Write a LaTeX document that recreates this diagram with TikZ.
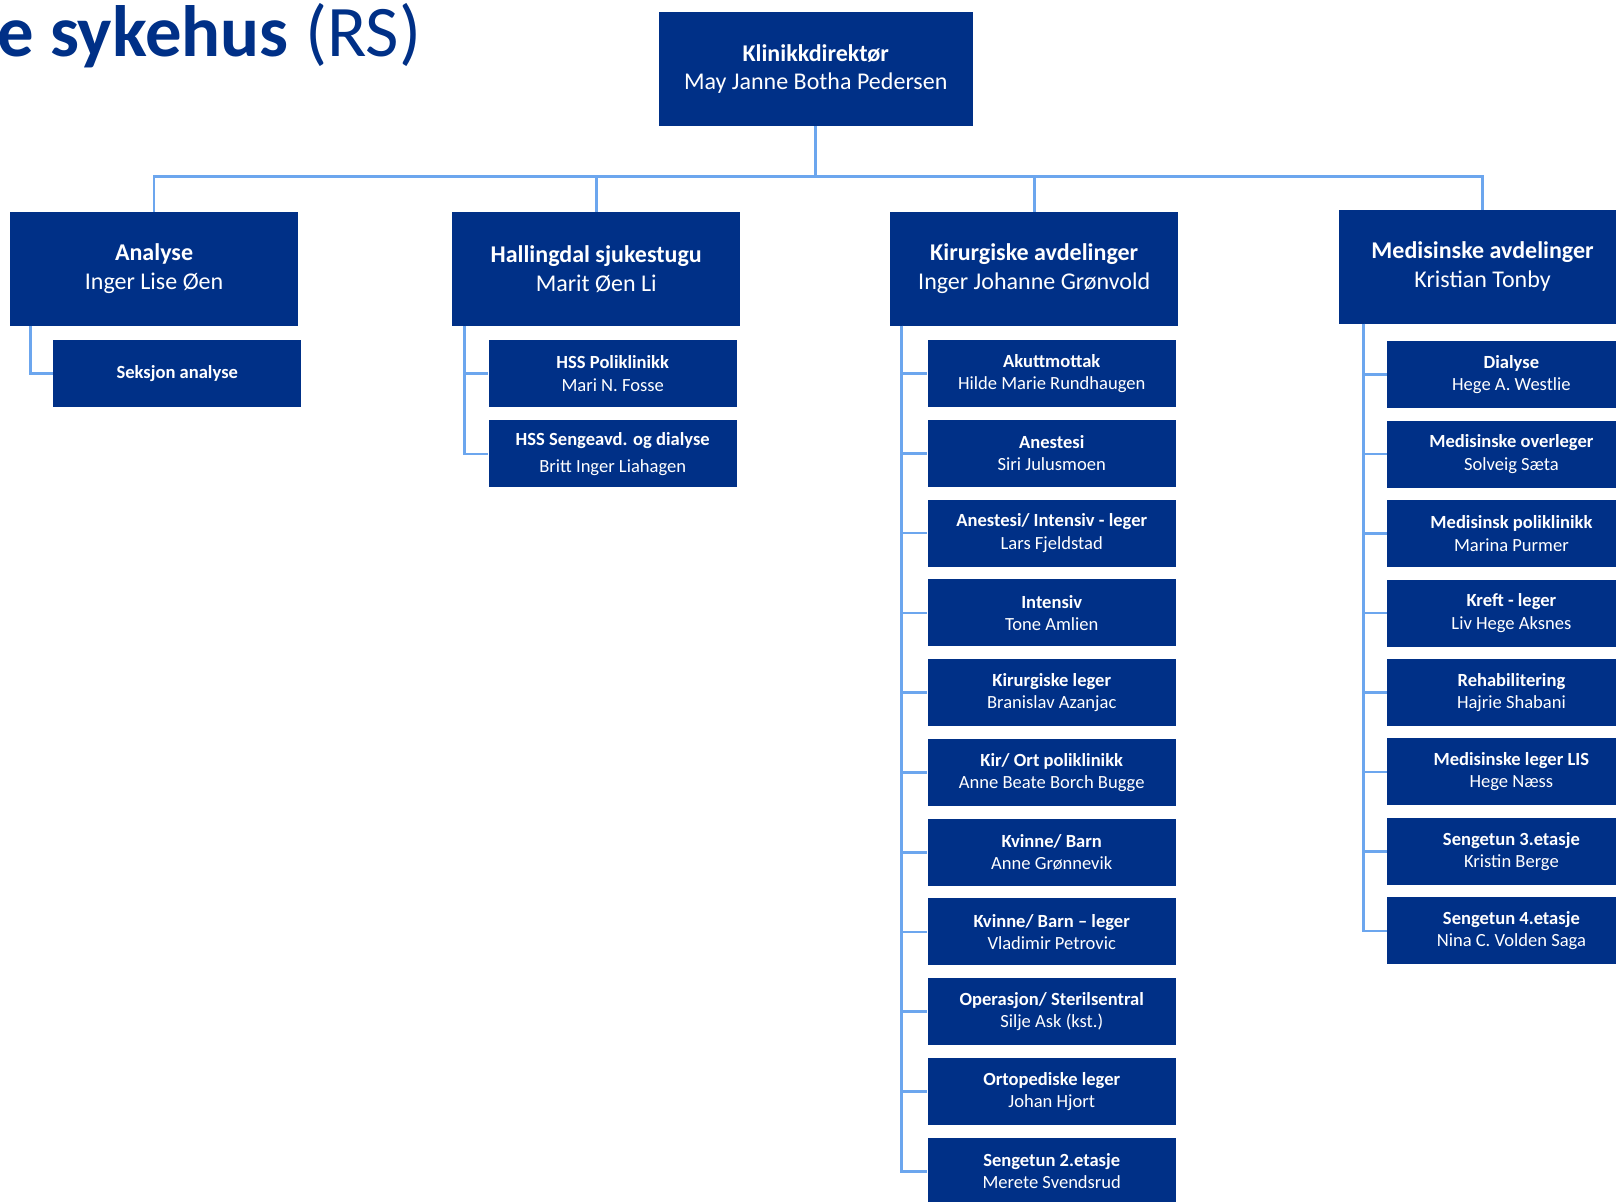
\documentclass[tikz,border=0pt]{standalone}
\usepackage{fontspec}
\setmainfont{Carlito}
\usetikzlibrary{positioning}
\definecolor{rsnavy}{HTML}{003087}
\definecolor{rsline}{HTML}{6CA6EE}

\begin{document}
\begin{tikzpicture}[x=1pt, y=-1pt,
    headbox/.style={fill=rsnavy, text=white, align=center, inner sep=0,
        minimum width=305, minimum height=110, font=\fontsize{23.3}{28}\selectfont},
    deptbox/.style={headbox, minimum width=279},
    unitbox/.style={fill=rsnavy, text=white, align=center, inner sep=0,
        minimum width=241, minimum height=65, font=\fontsize{18}{21.5}\selectfont},
    conn/.style={rsline, line width=2.6}]
                \useasboundingbox (0,0) rectangle (1568,1166);
                \clip (0,0) rectangle (1568,1166);

                % Title
                \node[anchor=base west, inner sep=0, text=rsnavy, font=\fontsize{70.5}{80}\selectfont]
                    (title) at (-3,55) {\textbf{e sykehus} (RS)};

                % Top level
                \node[headbox] (klinikk) at (791.5,67) {\textbf{Klinikkdirektør}\\May Janne Botha Pedersen};
                \coordinate (bus) at (791.5,171);

                \node[deptbox] (analyse) at (149.5,261) {\textbf{Analyse}\\Inger Lise Øen};
                \node[deptbox] (halling) at (578.5,261) {\textbf{Hallingdal sjukestugu}\\Marit Øen Li};
                \node[deptbox] (kir) at (1003.5,261) {\textbf{Kirurgiske avdelinger}\\Inger Johanne Grønvold};
                \node[deptbox] (med) at (1438.5,259) {\textbf{Medisinske avdelinger}\\Kristian Tonby};

                \draw[conn] (klinikk.south) -- (bus);
                \draw[conn] (bus) -| (analyse.north);
                \draw[conn] (bus) -| (halling.north);
                \draw[conn] (bus) -| (kir.north);
                \draw[conn] (bus) -| (med.north);

                % Analyse
                \node[unitbox] (seksjon) at (172,362.5) {\textbf{Seksjon analyse}};
                \draw[conn] ([xshift=20]analyse.south west) |- (seksjon.west);

                % Hallingdal sjukestugu
                \node[unitbox] (hsspol) at (594.5,362.5) {\textbf{HSS Poliklinikk}\\Mari N. Fosse};
                \node[unitbox] (hsssenge) at (594.5,440.5) {\textbf{HSS Sengeavd. og dialyse}\\[4pt]Britt Inger Liahagen};
                \draw[conn] ([xshift=12]halling.south west) |- (hsspol.west);
                \draw[conn] ([xshift=12]halling.south west) |- (hsssenge.west);

                % Kirurgiske avdelinger
                \node[unitbox] (akutt) at (1020.5,362.5) {\textbf{Akuttmottak}\\Hilde Marie Rundhaugen};
                \node[unitbox] (anestesi) at (1020.5,439.9) {\textbf{Anestesi}\\Siri Julusmoen};
                \node[unitbox] (anint) at (1020.5,517.3) {\textbf{Anestesi/ Intensiv - leger}\\Lars Fjeldstad};
                \node[unitbox] (intensiv) at (1020.5,594.7) {\textbf{Intensiv}\\Tone Amlien};
                \node[unitbox] (kirleger) at (1020.5,672.1) {\textbf{Kirurgiske leger}\\Branislav Azanjac};
                \node[unitbox] (kirort) at (1020.5,749.5) {\textbf{Kir/ Ort poliklinikk}\\Anne Beate Borch Bugge};
                \node[unitbox] (kvbarn) at (1020.5,826.9) {\textbf{Kvinne/ Barn}\\Anne Grønnevik};
                \node[unitbox] (kvleger) at (1020.5,904.3) {\textbf{Kvinne/ Barn – leger}\\Vladimir Petrovic};
                \node[unitbox] (opsteril) at (1020.5,981.7) {\textbf{Operasjon/ Sterilsentral}\\Silje Ask (kst.)};
                \node[unitbox] (orto) at (1020.5,1059.1) {\textbf{Ortopediske leger}\\Johan Hjort};
                \node[unitbox] (seng2) at (1020.5,1136.5) {\textbf{Sengetun 2.etasje}\\Merete Svendsrud};
                \draw[conn] ([xshift=11]kir.south west) |- (akutt.west);
                \draw[conn] ([xshift=11]kir.south west) |- (anestesi.west);
                \draw[conn] ([xshift=11]kir.south west) |- (anint.west);
                \draw[conn] ([xshift=11]kir.south west) |- (intensiv.west);
                \draw[conn] ([xshift=11]kir.south west) |- (kirleger.west);
                \draw[conn] ([xshift=11]kir.south west) |- (kirort.west);
                \draw[conn] ([xshift=11]kir.south west) |- (kvbarn.west);
                \draw[conn] ([xshift=11]kir.south west) |- (kvleger.west);
                \draw[conn] ([xshift=11]kir.south west) |- (opsteril.west);
                \draw[conn] ([xshift=11]kir.south west) |- (orto.west);
                \draw[conn] ([xshift=11]kir.south west) |- (seng2.west);

                % Medisinske avdelinger
                \node[unitbox] (dialyse) at (1466.5,363.5) {\textbf{Dialyse}\\Hege A. Westlie};
                \node[unitbox] (medover) at (1466.5,440.6) {\textbf{Medisinske overleger}\\Solveig Sæta};
                \node[unitbox] (medpol) at (1466.5,517.7) {\textbf{Medisinsk poliklinikk}\\Marina Purmer};
                \node[unitbox] (kreft) at (1466.5,594.8) {\textbf{Kreft - leger}\\Liv Hege Aksnes};
                \node[unitbox] (rehab) at (1466.5,671.9) {\textbf{Rehabilitering}\\Hajrie Shabani};
                \node[unitbox] (medlis) at (1466.5,749) {\textbf{Medisinske leger LIS}\\Hege Næss};
                \node[unitbox] (seng3) at (1466.5,826.1) {\textbf{Sengetun 3.etasje}\\Kristin Berge};
                \node[unitbox] (seng4) at (1466.5,903.2) {\textbf{Sengetun 4.etasje}\\Nina C. Volden Saga};
                \draw[conn] ([xshift=24]med.south west) |- (dialyse.west);
                \draw[conn] ([xshift=24]med.south west) |- (medover.west);
                \draw[conn] ([xshift=24]med.south west) |- (medpol.west);
                \draw[conn] ([xshift=24]med.south west) |- (kreft.west);
                \draw[conn] ([xshift=24]med.south west) |- (rehab.west);
                \draw[conn] ([xshift=24]med.south west) |- (medlis.west);
                \draw[conn] ([xshift=24]med.south west) |- (seng3.west);
                \draw[conn] ([xshift=24]med.south west) |- (seng4.west);
            \end{tikzpicture}
\end{document}
